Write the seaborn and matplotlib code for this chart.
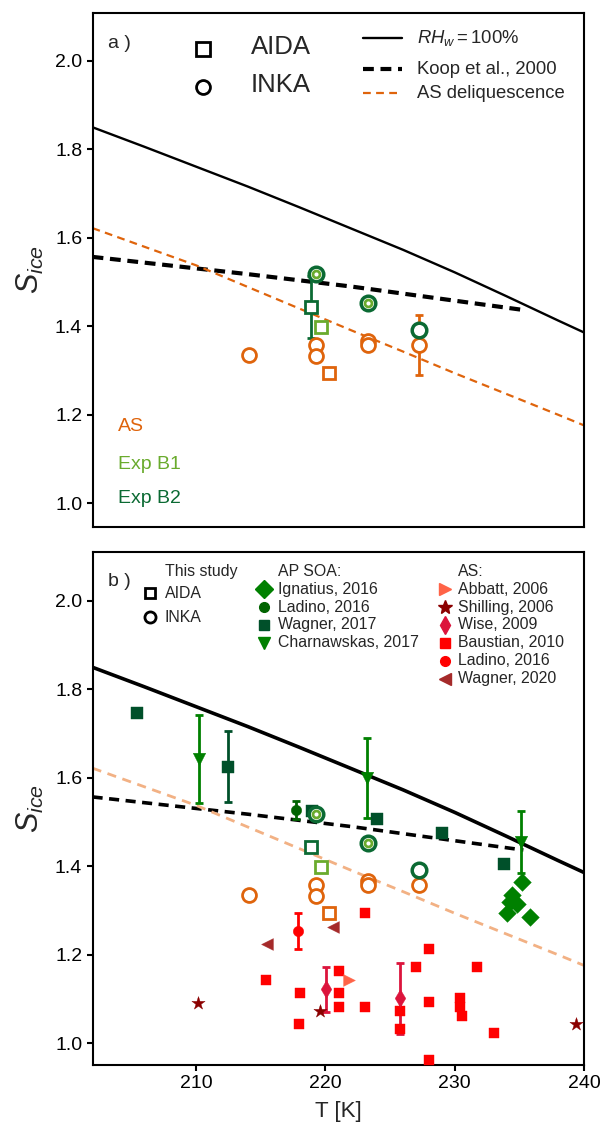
import numpy as np
import pandas as pd
import matplotlib
matplotlib.use("Agg")
import matplotlib.pyplot as plt
import seaborn as sns

# ---------------- data ----------------
T_rhw = [202, 206, 210, 214, 218, 222, 226, 230, 234, 238, 240]
S_rhw = [1.850, 1.806, 1.761, 1.716, 1.669, 1.621, 1.573, 1.522, 1.468, 1.413, 1.386]
T_koop = [202, 206, 210, 214, 218, 222, 226, 230, 235.3]
S_koop = [1.557, 1.544, 1.531, 1.518, 1.504, 1.490, 1.474, 1.458, 1.437]
T_deliq = [202, 206, 210, 214, 218, 222, 226, 230, 234, 238, 240]
S_deliq = [1.622, 1.580, 1.538, 1.489, 1.440, 1.391, 1.343, 1.294, 1.247, 1.200, 1.176]

# This study: AIDA (squares)
aida_AS_T, aida_AS_S = [220.29], [1.294]
aida_B1_T, aida_B1_S = [219.64], [1.398]
aida_B2_T, aida_B2_S, aida_B2_err = [218.87], [1.443], [0.07]
# This study: INKA (circles)
inka_AS_T = [214.1, 219.28, 219.28, 223.28, 223.28, 227.22]
inka_AS_S = [1.336, 1.358, 1.334, 1.366, 1.357, 1.358]
inka_AS_errT, inka_AS_errS, inka_AS_err = [227.22], [1.358], [0.068]
inka_B1_T, inka_B1_S = [219.28, 223.28], [1.518, 1.4535]
inka_B2_T, inka_B2_S = [219.28, 223.28, 227.22], [1.518, 1.4535, 1.392]

# Literature, AP SOA
ign_T = [234.0, 234.3, 234.4, 234.8, 235.17, 235.8]
ign_S = [1.294, 1.320, 1.335, 1.315, 1.365, 1.285]
lad16_T, lad16_S, lad16_err = [217.73], [1.527], [0.02]
wag17_T = [205.4, 212.5, 219.0, 224.0, 229.0, 233.8]
wag17_S = [1.747, 1.625, 1.525, 1.506, 1.476, 1.405]
wag17_errT, wag17_errS, wag17_err = [212.5], [1.625], [0.08]
char_T = [210.2, 223.25, 235.1]
char_S = [1.643, 1.600, 1.456]
char_err = [0.10, 0.09, 0.07]

# Literature, AS
abb_T, abb_S = [221.8], [1.143]
shil_T, shil_S = [210.18, 219.6, 239.4], [1.092, 1.073, 1.043]
wise_T, wise_S, wise_err = [220.05, 225.73], [1.122, 1.102], [0.05, 0.08]
baus_T = [215.39, 218.04, 217.96, 221.06, 221.06, 221.06, 223.07, 223.07, 225.73,
          225.73, 227.0, 228.04, 228.04, 228.04, 230.4, 230.4, 230.55, 231.7, 233.0]
baus_S = [1.143, 1.113, 1.043, 1.163, 1.113, 1.083, 1.294, 1.083, 1.073,
          1.032, 1.173, 1.213, 1.093, 0.962, 1.102, 1.083, 1.062, 1.173, 1.023]
ladAS_T, ladAS_S, ladAS_err = [217.9], [1.254], [0.04]
wag20_T, wag20_S = [215.47, 220.57], [1.224, 1.264]

yticks = [1.0, 1.2, 1.4, 1.6, 1.8, 2.0]
xticks = [210, 220, 230, 240]

# ---------------- style ----------------
sns.set_theme(style="ticks")
plt.rcParams["font.family"] = ["Liberation Sans", "DejaVu Sans"]
plt.rcParams["mathtext.fontset"] = "custom"
plt.rcParams["mathtext.rm"] = "Liberation Sans"
plt.rcParams["mathtext.it"] = "Liberation Sans:italic"
plt.rcParams["mathtext.bf"] = "Liberation Sans:bold"

ORANGE = "#df640c"
LGREEN = "#6aab2d"
DGREEN = "#0b6a33"
DEL_LIGHT = "#f2b184"

fig = plt.figure(figsize=(6.01, 11.34), dpi=100)
ax1 = fig.add_axes([0.154, 0.5355, 0.818, 0.4533])
ax2 = fig.add_axes([0.154, 0.0608, 0.818, 0.4522])

for ax in (ax1, ax2):
    for sp in ax.spines.values():
        sp.set_linewidth(1.5)
        sp.set_color("black")
        sp.set_visible(True)
    ax.set_xlim(202, 240)
    ax.set_yticks(yticks)
    ax.set_yticklabels([f"{v:.1f}" for v in yticks])
    ax.tick_params(axis="both", direction="out", length=4, width=1.5,
                   labelsize=14, colors="black")
    ax.set_ylabel("$S_{ice}$", fontsize=22)
    ax.yaxis.set_label_coords(-0.095, 0.5)

ax1.set_ylim(0.947, 2.109)
ax2.set_ylim(0.951, 2.110)
ax1.tick_params(axis="x", bottom=False, labelbottom=False)
ax2.set_xticks(xticks)
ax2.set_xticklabels([str(v) for v in xticks])
ax2.set_xlabel("T [K]", fontsize=16, labelpad=6)


def curve(ax, T, S, **kw):
    df = pd.DataFrame({"T": T, "S": S})
    sns.lineplot(data=df, x="T", y="S", ax=ax, estimator=None, sort=False, **kw)


# ---------------- panel a ----------------
curve(ax1, T_rhw, S_rhw, color="black", lw=1.7, zorder=2)
curve(ax1, T_koop, S_koop, color="black", lw=3.0, zorder=2)
ax1.lines[-1].set_dashes((2.6, 1.6))
curve(ax1, T_deliq, S_deliq, color=ORANGE, lw=1.6, zorder=2)
ax1.lines[-1].set_dashes((3.5, 2.4))


def this_study(ax, with_err):
    if with_err:
        ax.errorbar(aida_B2_T, aida_B2_S, yerr=aida_B2_err, fmt="none",
                    ecolor=DGREEN, elinewidth=2, capsize=3, capthick=2, zorder=3)
        ax.errorbar(inka_AS_errT, inka_AS_errS, yerr=inka_AS_err, fmt="none",
                    ecolor=ORANGE, elinewidth=2, capsize=3, capthick=2, zorder=3)
    ax.plot(inka_AS_T, inka_AS_S, ls="none", marker="o", ms=10, mew=2,
            mfc="white", mec=ORANGE, zorder=5)
    ax.plot(aida_AS_T, aida_AS_S, ls="none", marker="s", ms=8.5, mew=2,
            mfc="white", mec=ORANGE, zorder=5)
    ax.plot(aida_B1_T, aida_B1_S, ls="none", marker="s", ms=8.5, mew=2,
            mfc="white", mec=LGREEN, zorder=5)
    ax.plot(aida_B2_T, aida_B2_S, ls="none", marker="s", ms=8.5, mew=2,
            mfc="white", mec=DGREEN, zorder=5)
    ax.plot(inka_B2_T, inka_B2_S, ls="none", marker="o", ms=10.5, mew=2.5,
            mfc="white", mec=DGREEN, zorder=6)
    ax.plot(inka_B1_T, inka_B1_S, ls="none", marker="o", ms=5, mew=2,
            mfc="white", mec=LGREEN, zorder=7)


this_study(ax1, True)

tr1 = ax1.transAxes
ax1.text(0.0312, 0.9405, "a )", transform=tr1, fontsize=14, va="center", ha="left")
ax1.plot([0.2239], [0.9288], transform=tr1, marker="s", ms=10, mew=2,
         mfc="white", mec="black", ls="none", clip_on=False)
ax1.plot([0.2239], [0.8549], transform=tr1, marker="o", ms=10, mew=2,
         mfc="white", mec="black", ls="none", clip_on=False)
ax1.text(0.3222, 0.9333, "AIDA", transform=tr1, fontsize=18.5, va="center")
ax1.text(0.3222, 0.8593, "INKA", transform=tr1, fontsize=18.5, va="center")
ax1.plot([0.5502, 0.6289], [0.9502, 0.9502], transform=tr1, color="black", lw=1.7)
l2, = ax1.plot([0.5502, 0.6289], [0.8899, 0.8899], transform=tr1, color="black", lw=3.0)
l2.set_dashes((2.6, 1.6))
l3, = ax1.plot([0.5502, 0.6289], [0.8432, 0.8432], transform=tr1, color=ORANGE, lw=1.6)
l3.set_dashes((3.5, 2.4))
ax1.text(0.6595, 0.9502, "$RH_w = 100\\%$", transform=tr1, fontsize=13.3, va="center")
ax1.text(0.6595, 0.8899, "Koop et al., 2000", transform=tr1, fontsize=13.3, va="center")
ax1.text(0.6595, 0.8432, "AS deliquescence", transform=tr1, fontsize=13.3, va="center")

ax1.text(0.0515, 0.1959, "AS", transform=tr1, fontsize=14, color=ORANGE, va="center")
ax1.text(0.0515, 0.1220, "Exp B1", transform=tr1, fontsize=14, color=LGREEN, va="center")
ax1.text(0.0515, 0.0558, "Exp B2", transform=tr1, fontsize=14, color=DGREEN, va="center")

# ---------------- panel b ----------------
curve(ax2, T_rhw, S_rhw, color="black", lw=2.6, zorder=2)
curve(ax2, T_koop, S_koop, color="black", lw=2.6, zorder=2)
ax2.lines[-1].set_dashes((2.8, 1.8))
curve(ax2, T_deliq, S_deliq, color=DEL_LIGHT, lw=2.0, zorder=2)
ax2.lines[-1].set_dashes((3.3, 2.4))

C_IGN = "#008000"
C_LAD16 = "#006400"
C_WAG17 = "#00502a"
C_CHAR = "#008000"
C_ABB = "#ff6347"
C_SHIL = "#8b0000"
C_WISE = "#dc143c"
C_BAUS = "#ff0000"
C_LADAS = "#ff0000"
C_WAG20 = "#a52a2a"

# error bars
ax2.errorbar(lad16_T, lad16_S, yerr=lad16_err, fmt="none", ecolor=C_LAD16,
             elinewidth=2, capsize=3, capthick=2, zorder=3)
ax2.errorbar(wag17_errT, wag17_errS, yerr=wag17_err, fmt="none", ecolor=C_WAG17,
             elinewidth=2, capsize=3, capthick=2, zorder=3)
ax2.errorbar(char_T, char_S, yerr=char_err, fmt="none", ecolor=C_CHAR,
             elinewidth=2, capsize=3, capthick=2, zorder=3)
ax2.errorbar(wise_T, wise_S, yerr=wise_err, fmt="none", ecolor=C_WISE,
             elinewidth=2, capsize=3, capthick=2, zorder=3)
ax2.errorbar(ladAS_T, ladAS_S, yerr=ladAS_err, fmt="none", ecolor=C_LADAS,
             elinewidth=2, capsize=3, capthick=2, zorder=3)


def pts(T, S, marker, color, size):
    sns.scatterplot(x=T, y=S, ax=ax2, marker=marker, color=color, s=size ** 2,
                    edgecolor=color, linewidth=0.3, zorder=4, legend=False)


pts(baus_T, baus_S, "s", C_BAUS, 7.5)
pts(shil_T, shil_S, "*", C_SHIL, 10)
pts(wise_T, wise_S, "d", C_WISE, 9)
pts(ladAS_T, ladAS_S, "o", C_LADAS, 7.5)
pts(abb_T, abb_S, ">", C_ABB, 8.5)
pts(wag20_T, wag20_S, "<", C_WAG20, 8.5)
pts(ign_T, ign_S, "D", C_IGN, 9)
pts(wag17_T, wag17_S, "s", C_WAG17, 8)
pts(lad16_T, lad16_S, "o", C_LAD16, 7.5)
pts(char_T, char_S, "v", C_CHAR, 9)

this_study(ax2, False)

tr2 = ax2.transAxes
FS = 11.4
ax2.text(0.0312, 0.9427, "b )", transform=tr2, fontsize=14, va="center")
ax2.text(0.1472, 0.9622, "This study", transform=tr2, fontsize=FS, va="center")
ax2.plot([0.1166], [0.9200], transform=tr2, marker="s", ms=7.5, mew=2,
         mfc="white", mec="black", ls="none", clip_on=False)
ax2.plot([0.1166], [0.8732], transform=tr2, marker="o", ms=8, mew=2,
         mfc="white", mec="black", ls="none", clip_on=False)
ax2.text(0.1472, 0.9200, "AIDA", transform=tr2, fontsize=FS, va="center")
ax2.text(0.1472, 0.8732, "INKA", transform=tr2, fontsize=FS, va="center")

soa_labels = ["Ignatius, 2016", "Ladino, 2016", "Wagner, 2017", "Charnawskas, 2017"]
soa_markers = [("D", C_IGN, 9), ("o", C_LAD16, 7), ("s", C_WAG17, 7), ("v", C_CHAR, 9)]
as_labels = ["Abbatt, 2006", "Shilling, 2006", "Wise, 2009", "Baustian, 2010",
             "Ladino, 2016", "Wagner, 2020"]
as_markers = [(">", C_ABB, 8.5), ("*", C_SHIL, 10), ("d", C_WISE, 9), ("s", C_BAUS, 7),
              ("o", C_LADAS, 7), ("<", C_WAG20, 8.5)]
rows = [0.9278, 0.8927, 0.8582, 0.8237, 0.7886, 0.7538]

ax2.text(0.3766, 0.9622, "AP SOA:", transform=tr2, fontsize=FS, va="center")
for lab, (m, c, ms), yy in zip(soa_labels, soa_markers, rows):
    ax2.plot([0.3487], [yy], transform=tr2, marker=m, ms=ms, color=c, mec=c,
             ls="none", clip_on=False)
    ax2.text(0.3766, yy, lab, transform=tr2, fontsize=FS, va="center")

ax2.text(0.7441, 0.9622, "AS:", transform=tr2, fontsize=FS, va="center")
for lab, (m, c, ms), yy in zip(as_labels, as_markers, rows):
    ax2.plot([0.7171], [yy], transform=tr2, marker=m, ms=ms, color=c, mec=c,
             ls="none", clip_on=False)
    ax2.text(0.7441, yy, lab, transform=tr2, fontsize=FS, va="center")

fig.savefig("out.png", dpi=100)
